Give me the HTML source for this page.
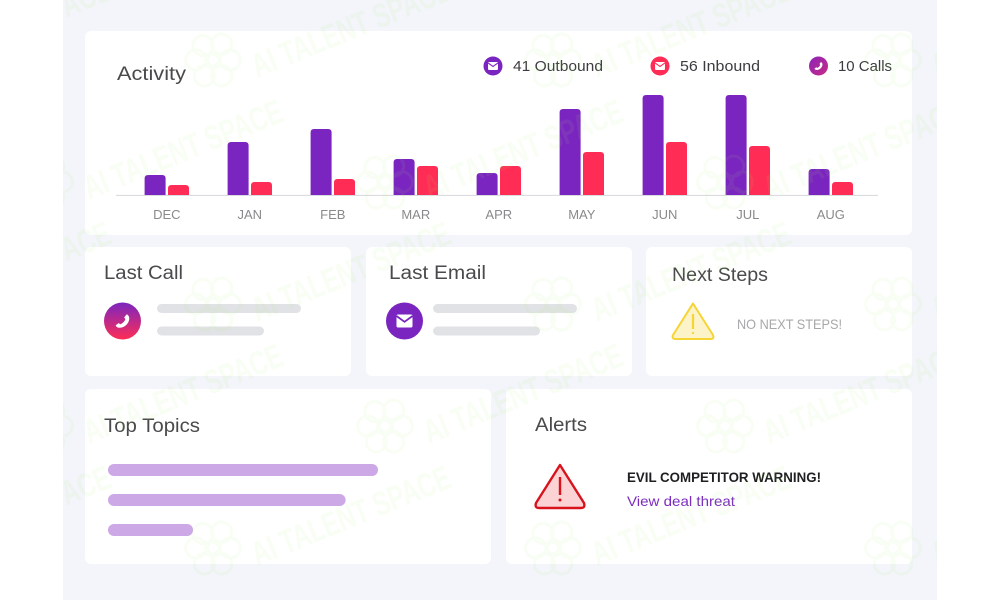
<!DOCTYPE html>
<html lang="en">
<head>
<meta charset="utf-8">
<title>Activity dashboard</title>
<style>
html,body{margin:0;padding:0;width:1000px;height:600px;overflow:hidden;background:#fff}
svg#root{display:block;overflow:hidden;filter:blur(0.35px)}
text{font-family:"Liberation Sans",sans-serif}
.title{font-size:19px;fill:#4a4a4c}
.legend{font-size:15px;fill:#3c3c40}
.tick{font-size:13px;fill:#8a8a8c;text-anchor:middle}
</style>
</head>
<body>
<svg id="root" width="1000" height="600" viewBox="0 0 1000 600" xmlns="http://www.w3.org/2000/svg">
  <defs>
    <linearGradient id="callGrad" x1="0" y1="0" x2="0" y2="1">
      <stop offset="0" stop-color="#7b25c0"/>
      <stop offset="1" stop-color="#ff2d55"/>
    </linearGradient>
    <linearGradient id="callLegendGrad" x1="0" y1="0" x2="1" y2="1">
      <stop offset="0" stop-color="#8a25b8"/>
      <stop offset="1" stop-color="#c92a85"/>
    </linearGradient>
    <clipPath id="panelClip"><rect x="63" y="0" width="874" height="600"/></clipPath>
    <g id="envelope-glyph">
      <rect x="-8" y="-6.500" width="16" height="13" rx="1.600" fill="#fff"/>
      <path d="M-8 -5 L0 0.800 L8 -5" fill="none" stroke="currentColor" stroke-width="1.800"/>
    </g>
    <path id="phone-glyph" d="M5 -8 C7 -7 8 -5 8 -3 C7.500 3 3 7.500 -3.500 8 C-5.500 8 -7.500 7 -8 5 L-4.500 2.500 L-2.500 3.800 C0 3 2.500 0.500 3.400 -2 L2 -4.300 Z" fill="#fff"/>
    <g id="brain-mark" fill="none" stroke="#a6e86a" stroke-width="4">
      <circle cx="-14" cy="-20" r="14"/>
      <circle cx="12" cy="-22" r="14"/>
      <circle cx="24" cy="0" r="14"/>
      <circle cx="12" cy="22" r="14"/>
      <circle cx="-12" cy="22" r="14"/>
      <circle cx="-24" cy="0" r="14"/>
      <circle cx="0" cy="0" r="8"/>
    </g>
  </defs>

  <rect x="63" y="0" width="874" height="600" fill="#f3f5fa"/>

  <rect x="85" y="31" width="827" height="204" rx="6" fill="#fff"/>
  <rect x="85" y="247" width="266" height="129" rx="6" fill="#fff"/>
  <rect x="366" y="247" width="266" height="129" rx="6" fill="#fff"/>
  <rect x="646" y="247" width="266" height="129" rx="6" fill="#fff"/>
  <rect x="85" y="389" width="406" height="175" rx="6" fill="#fff"/>
  <rect x="506" y="389" width="406" height="175" rx="6" fill="#fff"/>

  <text x="117" y="80" class="title" textLength="69" lengthAdjust="spacingAndGlyphs">Activity</text>

  <g style="color:#7b25c0">
    <circle cx="493" cy="66" r="9.500" fill="#7b25c0"/>
    <use href="#envelope-glyph" transform="translate(493 66) scale(0.62)"/>
    <text x="513" y="71" class="legend" textLength="90" lengthAdjust="spacingAndGlyphs">41 Outbound</text>
  </g>
  <g style="color:#ff2d55">
    <circle cx="660" cy="66" r="9.500" fill="#ff2d55"/>
    <use href="#envelope-glyph" transform="translate(660 66) scale(0.62)"/>
    <text x="680" y="71" class="legend" textLength="80" lengthAdjust="spacingAndGlyphs">56 Inbound</text>
  </g>
  <g>
    <circle cx="818.500" cy="66" r="9.500" fill="url(#callLegendGrad)"/>
    <use href="#phone-glyph" transform="translate(818.500 66) scale(0.5)"/>
    <text x="838" y="71" class="legend" textLength="54" lengthAdjust="spacingAndGlyphs">10 Calls</text>
  </g>

  <g id="activity-chart"></g>

  <text x="104" y="279" class="title" textLength="79" lengthAdjust="spacingAndGlyphs">Last Call</text>
  <circle cx="122.500" cy="321" r="18.500" fill="url(#callGrad)"/>
  <use href="#phone-glyph" transform="translate(122.500 321) scale(0.85)"/>
  <rect x="157" y="304" width="144" height="9" rx="4.500" fill="#e1e2e5"/>
  <rect x="157" y="326.500" width="107" height="9" rx="4.500" fill="#e1e2e5"/>

  <text x="389" y="279" class="title" textLength="97" lengthAdjust="spacingAndGlyphs">Last Email</text>
  <g style="color:#7b25c0">
    <circle cx="404.500" cy="321" r="18.500" fill="#7b25c0"/>
    <use href="#envelope-glyph" transform="translate(404.500 321)"/>
  </g>
  <rect x="433" y="304" width="144" height="9" rx="4.500" fill="#e1e2e5"/>
  <rect x="433" y="326.500" width="107" height="9" rx="4.500" fill="#e1e2e5"/>

  <text x="672" y="281" class="title" textLength="96" lengthAdjust="spacingAndGlyphs">Next Steps</text>
  <g>
    <path d="M693 303.500 L713 335 Q714.500 339 710.500 339 L675.500 339 Q671.500 339 673 335 Z" fill="#fdf3c8" stroke="#f6d433" stroke-width="2" stroke-linejoin="round"/>
    <line x1="693" y1="314" x2="693" y2="329" stroke="#f6d433" stroke-width="2.200"/>
    <circle cx="693" cy="333" r="1.100" fill="#f6d433"/>
  </g>
  <text x="737" y="329" font-size="14" fill="#a8a8aa" textLength="105" lengthAdjust="spacingAndGlyphs">NO NEXT STEPS!</text>

  <text x="104" y="432" class="title" textLength="96" lengthAdjust="spacingAndGlyphs">Top Topics</text>
  <g id="topics-chart"></g>

  <text x="535" y="431" class="title" textLength="52" lengthAdjust="spacingAndGlyphs">Alerts</text>
  <g>
    <path d="M560 465 L584 503 Q585.500 508 581 508 L539 508 Q534.500 508 536 503 Z" fill="#fbd3d4" stroke="#d8131c" stroke-width="2.400" stroke-linejoin="round"/>
    <line x1="560" y1="477" x2="560" y2="495" stroke="#d8131c" stroke-width="2.400"/>
    <circle cx="560" cy="500" r="1.500" fill="#d8131c"/>
  </g>
  <text x="627" y="482" font-size="14" font-weight="bold" fill="#1f1f22" textLength="194" lengthAdjust="spacingAndGlyphs">EVIL COMPETITOR WARNING!</text>
  <text x="627" y="506" font-size="14" fill="#7b2cbf" textLength="108" lengthAdjust="spacingAndGlyphs">View deal threat</text>

  <g clip-path="url(#panelClip)">
    <g id="watermark" opacity="0.08"></g>
  </g>
</svg>

<script>
var months = ['DEC', 'JAN', 'FEB', 'MAR', 'APR', 'MAY', 'JUN', 'JUL', 'AUG'];
var outboundValues = [20, 53, 66, 36, 22, 86, 100, 100, 26];
var inboundValues = [10, 13, 16, 29, 29, 43, 53, 49, 13];
var topicValues = [100, 88, 31.500];
var watermarkLabel = 'AI TALENT SPACE';

var NS = 'http://www.w3.org/2000/svg';

function xBand(i) { return 166.8 + 83 * i; }
function yValue(v) { return 195 - v; }
function topicWidth(v) { return 2.7 * v; }

function make(tag, attrs, parent) {
  var el = document.createElementNS(NS, tag);
  for (var k in attrs) { el.setAttribute(k, attrs[k]); }
  parent.appendChild(el);
  return el;
}

function barPath(x, v, w) {
  var top = yValue(v), base = yValue(0), r = Math.min(3.5, v);
  return 'M' + x + ' ' + base + 'V' + (top + r) + 'Q' + x + ' ' + top + ' ' + (x + r) + ' ' + top +
    'H' + (x + w - r) + 'Q' + (x + w) + ' ' + top + ' ' + (x + w) + ' ' + (top + r) + 'V' + base + 'Z';
}

var chart = document.getElementById('activity-chart');

var axisLine = make('line', { x1: 116, x2: 878, y1: yValue(0) + 0.4, y2: yValue(0) + 0.4, stroke: '#d5d7dc', 'stroke-width': 1 }, chart);



months.forEach(function (m, i) {
  var c = xBand(i);

  var outBar = make('path', { d: barPath(c - 22.2, outboundValues[i], 21), fill: '#7b25c0' }, chart);
  
  

  var inBar = make('path', { d: barPath(c + 1.2, inboundValues[i], 21), fill: '#ff2d55' }, chart);
  
  

  var tick = make('text', { x: c, y: 219, 'class': 'tick' }, chart);
  tick.textContent = m;
  
  
});

var topics = document.getElementById('topics-chart');
topicValues.forEach(function (v, i) {
  var bar = make('rect', { x: 108, y: 464 + 30 * i, width: topicWidth(v), height: 12, rx: 6, fill: '#cda8e6' }, topics);
  
  
});

var wm = document.getElementById('watermark');
for (var row = 0; row < 5; row++) {
  for (var col = -1; col < 3; col++) {
    var wx = 213 + 340 * col + (row % 2 !== 0 ? 172 : 0);
    var wy = 60 + 122 * row;

    var mark = make('use', { href: '#brain-mark', transform: 'translate(' + wx + ' ' + wy + ') scale(0.72)' }, wm);
    
    

    var label = make('text', {
      x: 0, y: 0,
      transform: 'translate(' + (wx + 44) + ' ' + (wy + 18) + ') rotate(-22)',
      'font-size': 34, 'font-weight': 'bold', fill: '#a6e86a',
      textLength: 212, lengthAdjust: 'spacingAndGlyphs'
    }, wm);
    label.textContent = watermarkLabel;
    
    
  }
}
</script>
</body>
</html>
